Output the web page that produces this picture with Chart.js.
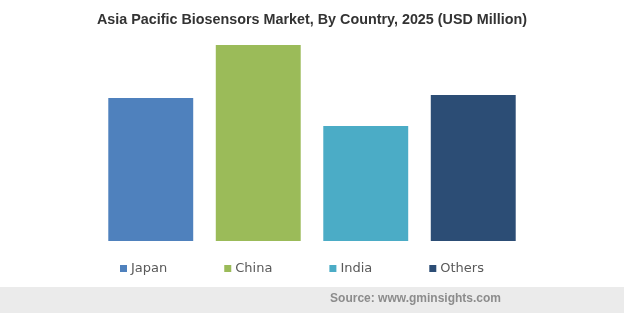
<!DOCTYPE html>
<html>
<head>
<meta charset="utf-8">
<script src="https://cdn.jsdelivr.net/npm/chart.js@4.4.0/dist/chart.umd.min.js"></script>
<style>
  html, body { margin: 0; padding: 0; background: #fff; }
  #wrap { width: 624px; height: 313px; }
</style>
</head>
<body>
<div id="wrap"><canvas id="chart" width="624" height="313"></canvas></div>
<script>
// data (no axis shown, values relative to China = 1000)
const countries = ['Japan', 'China', 'India', 'Others']
const marketSize = [730, 1000, 587, 745]
const barColors = ['#4f81bd', '#9bbb59', '#4bacc6', '#2c4d75']
const chartTitle = 'Asia Pacific Biosensors Market, By Country, 2025 (USD Million)'
const sourceText = 'Source: www.gminsights.com'

// legend + grey source strip, drawn after the bars
const extras = {
  id: 'extras',
  afterDraw(chart) {
    const ctx = chart.ctx
    ctx.save()

    // footer band
    ctx.fillStyle = '#ebebeb'
    ctx.fillRect(0, 287, chart.width, chart.height - 287)
    ctx.fillStyle = '#8c8c8c'
    ctx.font = 'bold 12px "Liberation Sans", Arial, sans-serif'
    ctx.textAlign = 'right'
    ctx.textBaseline = 'middle'
    ctx.fillText(sourceText, 501, 299)

    // legend
    ctx.font = '13px "DejaVu Sans", Verdana, sans-serif'
    ctx.textAlign = 'left'
    let x = 120
    const y = 268.5
    countries.forEach((name, i) => {
      ctx.fillStyle = barColors[i]
      ctx.fillRect(x, y - 3.5, 7, 7)
      ctx.fillStyle = '#595959'
      ctx.fillText(name, x + 11, y)
      x += 11 + ctx.measureText(name).width + 57
    })
    ctx.restore()
  }
}

const ctx = document.getElementById('chart').getContext('2d')
const chart = new Chart(ctx, {
  type: 'bar',
  data: {
    labels: countries,
    datasets: [{
      label: 'Market size',
      data: marketSize,
      backgroundColor: barColors,
      borderWidth: 0,
      categoryPercentage: 1,
      barPercentage: 0.79
    }]
  },
  options: {
    responsive: false,
    animation: false,
    layout: {
      padding: { left: 97, right: 97, bottom: 72 }
    },
    scales: {
      x: { display: false },
      y: { display: false, min: 0, max: 1000 }
    },
    plugins: {
      legend: { display: false },
      tooltip: { enabled: false },
      title: {
        display: true,
        text: chartTitle,
        color: '#333333',
        font: { family: '"Liberation Sans", Arial, sans-serif', size: 14.4, weight: 'bold' },
        padding: { top: 11.4, bottom: 16.3 }
      }
    }
  },
  plugins: [extras]
})
</script>
</body>
</html>
